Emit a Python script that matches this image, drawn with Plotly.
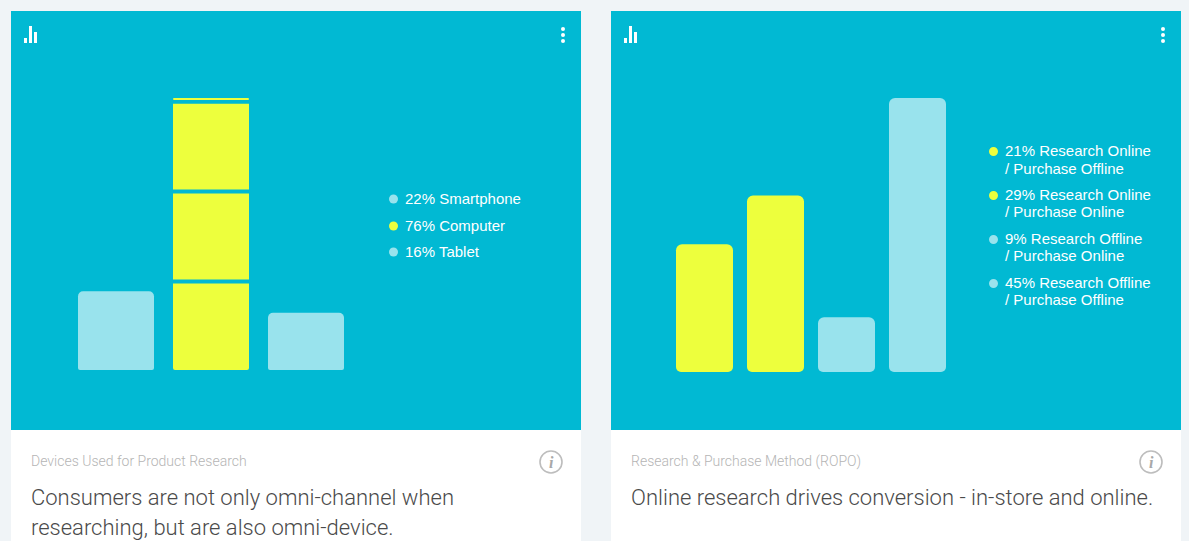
import plotly.graph_objects as go

devices = ["Smartphone", "Computer", "Tablet"]
device_values = [22, 76, 16]
computer_segments = [25.3, 25.1, 25.1, 0.5]  # computer bar is split in blocks
device_legend = ["22% Smartphone", "76% Computer", "16% Tablet"]

methods = ["RO/PO", "RO/PN", "RN/PN", "RN/PO"]
method_values = [21, 29, 9, 45]
method_legend = [("21% Research Online", "/ Purchase Offline"),
                 ("29% Research Online", "/ Purchase Online"),
                 ("9% Research Offline", "/ Purchase Online"),
                 ("45% Research Offline", "/ Purchase Offline")]

W, H = 1189, 541
TEAL = "#01b9d3"
YELLOW = "#edff3d"
PALE = "#99e3ed"
PAGE = "#f0f4f7"
GAP = 1.1
LEFT_WIDTH = 0.8
RIGHT_WIDTH = 57 / 71


def px(x):
    return x / W


def py(y):
    return 1 - y / H


def round_bar(fig, x, v, color, axis, width, r_top, r_bottom):
    # cornerradius only rounds the far end, two overlapping pieces give both ends
    fig.add_trace(go.Bar(x=[x], y=[v * 0.75], base=[v * 0.25], width=width,
                         marker=dict(color=color, cornerradius=r_top, line_width=0),
                         xaxis="x" + axis, yaxis="y" + axis, hoverinfo="skip"))
    fig.add_trace(go.Bar(x=[x], y=[-v * 0.75], base=[v * 0.75], width=width,
                         marker=dict(color=color, cornerradius=r_bottom, line_width=0),
                         xaxis="x" + axis, yaxis="y" + axis, hoverinfo="skip"))


fig = go.Figure()

# left chart
for d, v in zip(devices, device_values):
    if d != "Computer":
        round_bar(fig, d, v, PALE, "", LEFT_WIDTH, 5, 2)
base = 0
for i, seg in enumerate(computer_segments):
    top = i == len(computer_segments) - 1
    height = seg if top else seg - GAP
    if i == 0:
        fig.add_trace(go.Bar(x=["Computer"], y=[height * 0.75], base=[height * 0.25], width=LEFT_WIDTH,
                             marker=dict(color=YELLOW, line_width=0), hoverinfo="skip"))
        fig.add_trace(go.Bar(x=["Computer"], y=[-height * 0.75], base=[height * 0.75], width=LEFT_WIDTH,
                             marker=dict(color=YELLOW, cornerradius=2, line_width=0), hoverinfo="skip"))
    else:
        fig.add_trace(go.Bar(x=["Computer"], y=[height], base=[base], width=LEFT_WIDTH,
                             marker=dict(color=YELLOW, cornerradius=4 if top else 0, line_width=0),
                             hoverinfo="skip"))
    base += seg

# right chart
for m, v in zip(methods, method_values):
    round_bar(fig, m, v, YELLOW if v in (21, 29) else PALE, "2", RIGHT_WIDTH, 6, 5)

shapes = [
    dict(type="rect", xref="paper", yref="paper", x0=px(11), x1=px(581), y0=py(11), y1=py(430),
         fillcolor=TEAL, line_width=0, layer="below"),
    dict(type="rect", xref="paper", yref="paper", x0=px(611), x1=px(1181), y0=py(11), y1=py(430),
         fillcolor=TEAL, line_width=0, layer="below"),
    dict(type="rect", xref="paper", yref="paper", x0=px(11), x1=px(581), y0=py(430), y1=0,
         fillcolor="white", line_width=0, layer="below"),
    dict(type="rect", xref="paper", yref="paper", x0=px(611), x1=px(1181), y0=py(430), y1=0,
         fillcolor="white", line_width=0, layer="below"),
]


def add_rect(x0, y0, x1, y1, color="white"):
    shapes.append(dict(type="rect", xref="paper", yref="paper", x0=px(x0), x1=px(x1), y0=py(y0), y1=py(y1),
                       fillcolor=color, line_width=0))


def add_dot(cx, cy, r, color, line=None):
    shapes.append(dict(type="circle", xref="paper", yref="paper", x0=px(cx - r), x1=px(cx + r),
                       y0=py(cy - r), y1=py(cy + r), fillcolor=color if line is None else "rgba(0,0,0,0)",
                       line=dict(color=line, width=1.6) if line else dict(width=0)))


annotations = []


def add_text(x, y, text, size, color, font="Liberation Sans", anchor="left", weight=None, style=None):
    annotations.append(dict(xref="paper", yref="paper", x=px(x), y=py(y), text=text, showarrow=False,
                            xanchor=anchor, yanchor="middle", align="left",
                            font=dict(family=font, size=size, color=color, weight=weight, style=style)))


# icons on both cards
for off in (0, 600):
    add_rect(24 + off, 38, 27 + off, 43)
    add_rect(29 + off, 26, 32 + off, 43)
    add_rect(34 + off, 32, 37 + off, 43)
    for y in (29, 35, 41):
        add_dot(563 + off, y, 2, "white")
    add_dot(551 + off, 462, 11, None, line="#bdbdbd")
    add_text(551 + off, 462, "i", 16, "#a8a8a8", font="Liberation Serif", anchor="center", style="italic", weight="bold")

# legends
for y, t, c in zip((199, 226, 252), device_legend, (PALE, YELLOW, PALE)):
    add_dot(393.5, y, 4.5, c)
    add_text(402.8, y - 0.6, t, 15, "white")
for y, y2, t, c in zip((151, 195, 239, 283), (169, 212, 256, 300), method_legend, (YELLOW, YELLOW, PALE, PALE)):
    add_dot(993.5, y + 0.5, 4.5, c)
    add_text(1002.8, y - 0.6, t[0], 15, "white")
    add_text(1002.8, y2 - 0.6, t[1], 15, "white")

# captions
add_text(28.5, 461, "Devices Used for Product Research", 14, "#b5b5b5", font="Roboto", weight=300)
add_text(628.9, 461, "Research &amp; Purchase Method (ROPO)", 14, "#b5b5b5", font="Roboto", weight=300)
add_text(28.5, 497, "Consumers are not only omni-channel when", 22, "#4a4a4a", font="Roboto", weight=300)
add_text(28.5, 527, "researching, but are also omni-device.", 22, "#4a4a4a", font="Roboto", weight=300)
add_text(628.9, 497, "Online research drives conversion - in-store and online.", 22, "#4a4a4a", font="Roboto", weight=300)

hidden = dict(visible=False, fixedrange=True)
fig.update_layout(
    width=W, height=H, margin=dict(l=0, r=0, t=0, b=0),
    paper_bgcolor=PAGE, plot_bgcolor="rgba(0,0,0,0)",
    barmode="overlay", showlegend=False,
    shapes=shapes, annotations=annotations,
    xaxis=dict(hidden, domain=[px(68.5), px(353.5)], categoryorder="array", categoryarray=devices, range=[-0.5, 2.5]),
    yaxis=dict(hidden, domain=[py(370), py(98)], range=[0, 76]),
    xaxis2=dict(hidden, domain=[px(669), px(953)], categoryorder="array", categoryarray=methods, range=[-0.5, 3.5]),
    yaxis2=dict(hidden, domain=[py(372), py(98)], range=[0, 45], anchor="x2"),
)
fig.write_html("out.html", config=dict(displayModeBar=False),
               post_script="document.body.style.margin='0';document.body.style.overflow='hidden';")
